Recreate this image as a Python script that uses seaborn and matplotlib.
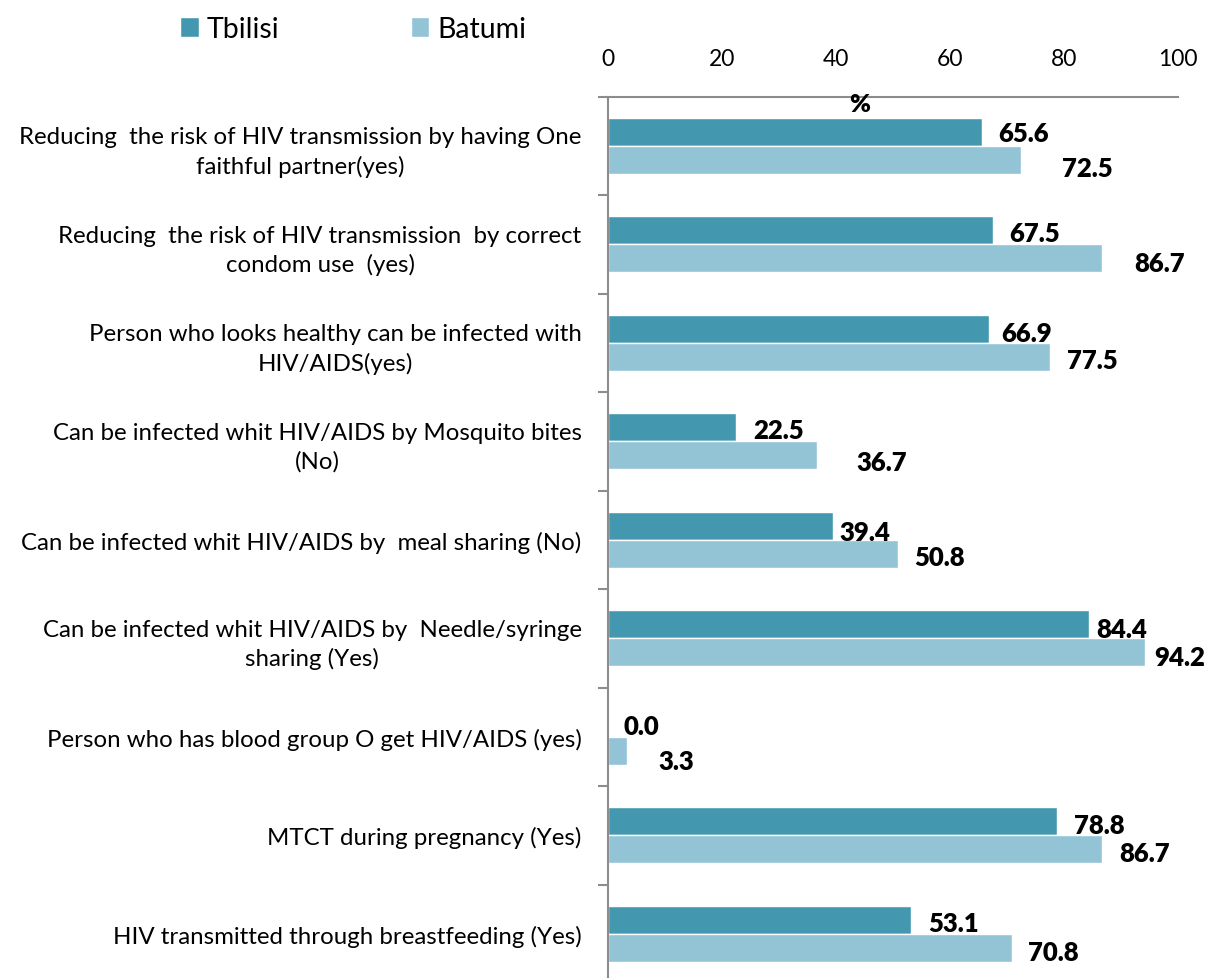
import matplotlib
matplotlib.use("Agg")
import matplotlib.pyplot as plt
import seaborn as sns
import pandas as pd
import numpy as np

# ---------------- data ----------------
categories = [
    "Reducing  the risk of HIV transmission by having One\nfaithful partner(yes)",
    "Reducing  the risk of HIV transmission  by correct\ncondom use  (yes)",
    "Person who looks healthy can be infected with\nHIV/AIDS(yes)",
    "Can be infected whit HIV/AIDS by Mosquito bites\n(No)",
    "Can be infected whit HIV/AIDS by  meal sharing (No)",
    "Can be infected whit HIV/AIDS by  Needle/syringe\nsharing (Yes)",
    "Person who has blood group O get HIV/AIDS (yes)",
    "MTCT during pregnancy (Yes)",
    "HIV transmitted through breastfeeding (Yes)",
]
series_names = ["Tbilisi", "Batumi"]
tbilisi = [65.6, 67.5, 66.9, 22.5, 39.4, 84.4, 0.0, 78.8, 53.1]
batumi = [72.5, 86.7, 77.5, 36.7, 50.8, 94.2, 3.3, 86.7, 70.8]
x_ticks = [0, 20, 40, 60, 80, 100]
axis_unit = "%"

# ---------------- styling / layout ----------------
colors = ["#4398B0", "#93C4D6"]
# per-label offsets in pixels (dx from bar end, dy downward from bar centre)
label_offsets = {
    "Tbilisi": [(16, 1), (16, 3), (12, 4), (17, 3), (7, 6), (7, 5), (16, 3), (17, 4), (18, 3)],
    "Batumi": [(41, 8), (32, 5), (17, 3), (39, 7), (17, 3), (9, 5), (32, 10), (17, 4), (16, 4)],
}

sns.set_theme(style="white")
plt.rcParams["font.family"] = ["Lato", "DejaVu Sans"]
plt.rcParams["text.color"] = "black"

df = pd.DataFrame({
    "category": categories * 2,
    "value": tbilisi + batumi,
    "city": [series_names[0]] * len(categories) + [series_names[1]] * len(categories),
})

W, H = 1206, 979
fig = plt.figure(figsize=(W / 100, H / 100), dpi=100)
ax_left, ax_right = 608 / W, 1178 / W
ax_top_px, ax_bot_px = 97.5, 97.5 + 9 * 98.5
ax = fig.add_axes([ax_left, 1 - ax_bot_px / H, ax_right - ax_left, (ax_bot_px - ax_top_px) / H])

sns.barplot(data=df, y="category", x="value", hue="city", orient="h",
            palette=colors, width=0.57, edgecolor="white", linewidth=1,
            saturation=1, ax=ax, errorbar=None)

handles, labels = ax.get_legend_handles_labels()
if ax.get_legend() is not None:
    ax.get_legend().remove()

ax.set_xlim(0, 100)
ax.set_ylim(len(categories) - 0.5, -0.5)
ax.xaxis.tick_top()
ax.set_xticks(x_ticks)
ax.set_xticklabels([str(t) for t in x_ticks])
ax.set_xlabel("")
ax.set_ylabel("")
ax.tick_params(axis="x", length=0, pad=20, labelsize=16.5, labelcolor="black")
ax.tick_params(axis="y", which="major", length=0, pad=19, labelsize=17.3, labelcolor="black")
ax.set_yticks(np.arange(-0.5, len(categories), 1), minor=True)
ax.tick_params(axis="y", which="minor", length=7, width=1.5, color="#8C8C8C", left=True)
for lab in ax.get_yticklabels():
    lab.set_multialignment("center")
    lab.set_linespacing(1.4)

for s in ["right", "bottom"]:
    ax.spines[s].set_visible(False)
for s in ["left", "top"]:
    ax.spines[s].set_color("#8C8C8C")
    ax.spines[s].set_linewidth(1.5)
ax.grid(False)

ax.text(0.442, 0.991, axis_unit, transform=ax.transAxes, ha="center", va="center",
        fontsize=18, fontweight="heavy")

# value labels
for cont, name in zip(ax.containers, series_names):
    for i, bar in enumerate(cont):
        w = bar.get_width()
        yc = bar.get_y() + bar.get_height() / 2
        dx, dy = label_offsets[name][i]
        ax.annotate(f"{w:.1f}", xy=(w, yc), xytext=(dx, -dy), textcoords="offset pixels",
                    ha="left", va="center", fontsize=18.5, fontweight="heavy", color="black",
                    annotation_clip=False)

fig.legend(handles, labels, loc="upper left", bbox_to_anchor=(180 / W, 1 - 17 / H),
           ncol=2, frameon=False, fontsize=20.5, handlelength=0.65, handleheight=0.65,
           handletextpad=0.3, columnspacing=4.6, borderpad=0, borderaxespad=0)

fig.savefig("out.png", dpi=100)
